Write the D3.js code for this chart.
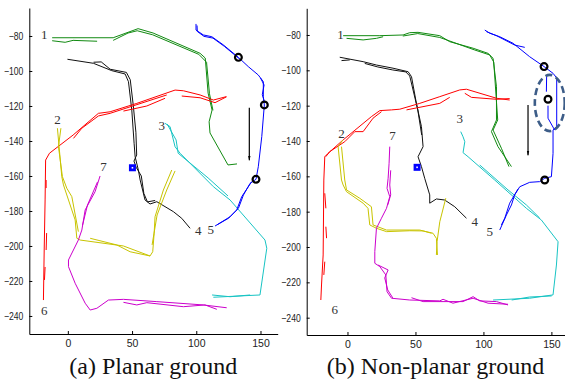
<!DOCTYPE html>
<html>
<head>
<meta charset="utf-8">
<script src="https://cdn.jsdelivr.net/npm/d3@7/dist/d3.min.js"></script>
<style>
  body { margin: 0; background: #fff; }
  svg { display: block; }
</style>
</head>
<body>
<svg id="chart" width="565" height="383"></svg>
<script>
// ---- shared ticks / labels ----
const xTicks = [0, 50, 100, 150];
const yTicks = [-80, -100, -120, -140, -160, -180, -200, -220, -240];
const trackIds = ['1', '2', '3', '4', '5', '6', '7'];
const panelTitles = ['(a) Planar ground', '(b) Non-planar ground'];

// ---- (a) planar ground: each array holds the runs of one colour, points [x, y] ----
const aGreen = [
  [[-12.2,-81],[35.3,-81],[54.7,-75.8],[66.4,-78.3],[103,-89.9],[107,-92.6],[109.2,-112.6],[112.3,-122.3],[110,-129],[110.7,-135.4],[124.7,-153.7],[131.7,-153.1]],
  [[-12.2,-82.7],[-2.1,-83.6],[4.1,-82.5],[22.8,-83]],
  [[35.3,-82.5],[46.9,-78.3],[54,-77],[66,-79.3],[102,-90.5],[108,-95],[110.3,-113],[113,-122.5]]
];
const aBlack = [
  [[-0.3,-93.3],[19.9,-95.6],[34.2,-99.8],[44.6,-101.7],[47.2,-106.1],[49.8,-122.3],[51.6,-141.3],[52.4,-149],[54.9,-156.6],[56.3,-162.3],[60.1,-173.7],[64,-176],[69.3,-174.7],[82.2,-180.4],[88.7,-184.2],[95.2,-189.9]],
  [[20,-95],[26,-94.8],[33,-99],[45.6,-100.8],[48.6,-105],[51,-120],[53,-135],[53.6,-148],[51.5,-151.5],[53.2,-155],[57.2,-160],[59.2,-170],[62,-174.8],[68,-174]]
];
const aBlue = [
  [[99.8,-73.1],[99.8,-76.6],[105.5,-79.4],[112.1,-80.4],[121.1,-85.1],[132.8,-92.2],[140.5,-97.5],[148.3,-102.3],[152.2,-106.1],[152.2,-114.7],[153,-119.4],[151,-137.5],[148.3,-154.7],[146.5,-161.9],[141.9,-164.2],[136.7,-170.9],[132.8,-178.5],[125,-184.2],[116,-188]],
  [[100.6,-74],[100.8,-77.4],[106,-80.2],[113,-81.2],[122,-86],[133.5,-93]],
  [[150,-104],[152.8,-108],[151.4,-113.5],[153.2,-118]],
  [[143.2,-163.2],[135.4,-171.8],[131.5,-179.4],[126.3,-183.3],[114.6,-188.6]]
];
const aRed = [
  [[-19,-230.9],[-18.4,-202.3],[-17.7,-173.7],[-17.3,-150.9],[-14.3,-147],[4.1,-136.6],[23.8,-124.2],[32.9,-123.3],[53.7,-118.5],[83.5,-110.9],[90,-111.3],[103,-113.7],[113.3,-116.6],[123.2,-114.7]],
  [[4.4,-138.5],[10.9,-132.7],[23.8,-125.7],[32.9,-124.2],[77,-113.7]],
  [[43.3,-122.9],[61.5,-120],[75.7,-115.6]],
  [[88.7,-114.3],[103,-115.3],[114.6,-118.1],[123.7,-114.7]],
  [[-16.9,-162.3],[-16.9,-166.9]],
  [[-16.5,-192.6],[-16.9,-202.3]],
  [[-17.7,-212],[-18.2,-219.4]]
];
const aYellow = [
  [[-8.1,-132.7],[-4.7,-160.4],[-3.4,-165.1],[5.7,-185.1],[7,-195.6],[9.6,-196.6],[43.3,-200],[64,-205.7],[66.1,-203.3],[67.2,-192.7],[67.9,-183.3],[74.4,-168],[80.9,-156.6]],
  [[-5.4,-132.7],[-7.3,-143.3],[-4.2,-160.4],[-0.8,-167],[3.1,-171.8],[8.2,-191.8]],
  [[17.4,-195.6],[38.1,-199.4],[48.5,-203.3],[64,-205.7]],
  [[65.6,-199.4],[69.5,-182.3],[77,-168],[83.5,-157.1]]
];
const aMagenta = [
  [[25.1,-160],[21.2,-169],[13.5,-179.4],[10.9,-190.9],[8.2,-196.6],[0.5,-208],[0.5,-211.8],[5.7,-221.3],[13.5,-232.7],[17.4,-236.6],[22.6,-235.6],[31.6,-230.9],[43.3,-230.5],[69.3,-231.8],[105.5,-233.7],[123.7,-235.3]],
  [[23.1,-163.4],[15.3,-176.6],[11.5,-188]],
  [[43.3,-232.2],[53.7,-233.7],[61.5,-232.4],[90,-234.7],[106.8,-233.7],[116,-236.2]]
];
const aCyan = [
  [[75.7,-129.9],[79.6,-131.8],[83.5,-143.3],[87.4,-147],[100.4,-156.6],[113.3,-166.1],[126.3,-173.7],[153.5,-196.6],[154.9,-201.3],[149.6,-228],[113.3,-229.3]],
  [[77.3,-130.3],[84.3,-139.4],[85.9,-147],[109.2,-161.1],[124.7,-171.4]],
  [[112.3,-228],[126.3,-229],[141.9,-228]]
];
const aCircles = [[132.8,-92.2],[153,-119.4],[146.5,-161.9]];
const aSquare = [50.3,-155.3];
const aArrow = [[141.3,-121],[141.3,-151]];
const aLabelPos = [[-18.4,-79.4],[-8.1,-128],[73.2,-130.9],[101.6,-190.9],[111.3,-190.5],[-18.4,-237],[27.7,-154.7]];

// ---- (b) non-planar ground ----
const bGreen = [
  [[-3.2,-80.4],[23.8,-80.4],[40.9,-80],[45.8,-78.7],[51.9,-78.5],[67.9,-80.4],[75.2,-83.8],[92.4,-87.5],[103.4,-90.4],[107.1,-93.2],[109.6,-109.3],[109.6,-128.1],[105.9,-134.7],[110.7,-143.2],[120.6,-154.5]],
  [[-0.7,-81.9],[11.5,-82.8],[21.3,-81.9],[26.2,-81]],
  [[40.7,-80.6],[51.7,-79.2],[67.9,-81.4],[93.6,-88.5],[104.6,-91.3],[107.6,-95.3],[110.5,-128.1],[107.1,-133.8],[113.2,-144.1],[118.8,-154.5]]
];
const bBlack = [
  [[-5.7,-92.6],[11.5,-95.1],[21.3,-97],[33.5,-98.8],[44.6,-100.8],[47.1,-103.6],[50.7,-118.7],[54.4,-131.9],[55.6,-143.2],[51.9,-148.9],[54.4,-154.5],[56.8,-161.1],[60.5,-170.5],[60.5,-175.2],[65.4,-172.8],[71.5,-173.4],[78.9,-177.2],[87.5,-183.7]],
  [[-4.4,-94.5],[1.7,-94.1]],
  [[12.7,-96.1],[22.3,-98.1],[33.3,-99.8],[42.9,-100.9],[45.8,-103.2],[51.7,-122.4],[54.6,-136.6]]
];
const bBlue = [
  [[101,-77.2],[104.6,-79],[112,-81],[121.8,-84.7],[134,-92.3],[144.6,-97.9],[151.2,-101.7],[153.9,-104.3],[153.9,-131.9],[151.2,-133.8],[151.2,-147],[150,-160.2],[145.1,-161.1],[141.4,-163],[134,-163.4],[126.7,-165.9],[123,-170.5],[120.6,-176.2],[116.9,-181.9],[112,-190.4]],
  [[102.2,-78.1],[109.6,-80.4],[123,-85.7],[130.4,-87]],
  [[146.5,-102.6],[146.3,-112.1]],
  [[147.5,-120],[147.5,-127.1],[152.4,-133.8]],
  [[125.4,-167.2],[119.3,-175.2],[115.7,-183.7],[113.2,-187.5]]
];
const bRed = [
  [[-19.6,-230],[-19.1,-221.5],[-17.9,-204.5],[-17.4,-162.1],[-16.7,-148.9],[-14.3,-147],[-3.2,-139.4],[17.6,-126.2],[23.8,-122.8],[32.4,-122.4],[38.5,-122],[53.2,-118.7],[67.9,-114.9],[82.6,-111.1],[87.5,-110.7],[109.6,-115.8],[119.3,-116.8]],
  [[-16,-148.9],[-13,-146],[-2,-140.4],[5.4,-134.7],[11.5,-134.7],[18.8,-127.1],[25,-123.4]],
  [[43.4,-122.4],[67.9,-118.7],[75.2,-115.3]],
  [[86.3,-113],[91.2,-115.3],[109.6,-116.4],[119.3,-116]],
  [[-16.7,-169.6],[-15.9,-178.1]],
  [[-15.9,-188.5],[-15.4,-195]],
  [[-16.7,-208.3],[-17.4,-215.8]]
];
const bYellow = [
  [[-6.9,-143.2],[-4.4,-162.1],[-3.2,-164.9],[-0.7,-168.7],[11.5,-175.2],[15.1,-178.1],[16.4,-187.5],[21.3,-189.4],[28.7,-191.3],[45.8,-190.8],[55.6,-190.9],[62.9,-192.2],[65.4,-195.1],[66.2,-204.5]],
  [[-4.4,-143.2],[-2,-162.1],[-0.7,-167.7],[9,-172.4],[17.6,-177.2],[18.8,-187.5],[28.7,-190.4],[53.2,-190.4],[61.8,-192.2]],
  [[65.4,-204.5],[65.9,-197],[67.9,-185.7],[72.3,-172.4]],
  [[-6.9,-143.2],[-3.5,-139.5]]
];
const bMagenta = [
  [[31.1,-143.2],[30.6,-152.6],[29.9,-161.1],[29.1,-166.8],[31.1,-171.5],[28.7,-178.1],[25,-183.7],[21.3,-189.4],[20.1,-202.6],[20.1,-209.2],[23.8,-211.1],[28.2,-215.8],[29.1,-225.3],[32.4,-229],[45.8,-230],[67.9,-230.5],[70.3,-229.6],[77.6,-231.8],[92.4,-229],[103.4,-231.8],[118.1,-232.4]],
  [[22.5,-210.2],[29.9,-213],[27.4,-217.5],[29.6,-224.3],[33.3,-228.8]],
  [[47.1,-228.7],[55.6,-230.9],[85,-230.9],[92.4,-228.1],[97.3,-230.5],[109.6,-230.9],[118.1,-232.8]],
  [[31.8,-156.6],[31.1,-164.9],[31.8,-170.5],[29.6,-176.2]]
];
const bCyan = [
  [[83.3,-134.7],[85,-137.6],[86.3,-140.4],[85,-146.6],[88.7,-148.9],[108.3,-162.1],[131.6,-178.1],[142.6,-184.7],[154.9,-197],[153.7,-210.2],[151.2,-227.1],[134,-229],[107.1,-230]],
  [[97.3,-153.6],[118.1,-167.7],[131.6,-176.2],[141.4,-183.6]],
  [[120.8,-230],[134,-228.3],[150.2,-227.7]]
];
const bCircles = [[144.6,-97.9],[147.5,-116.4],[145.1,-162.1]];
const bSquare = [51.2,-154.9];
const bArrow = [[132.8,-119.6],[132.8,-148]];
const bEllipse = [148.8, -118.5, 11, 15.9]; // cx, cy, rx, ry in data units
const bLabelPos = [[-5.1,-80],[-4.4,-135.6],[82.6,-127.5],[93.6,-185.7],[104.6,-191.3],[-9.3,-235.6],[33.1,-137]];

const colors = {
  green: '#118a11', black: '#111', blue: '#0000ff', red: '#ff0000',
  yellow: '#c8c400', magenta: '#cc00cc', cyan: '#18c4c4'
};

const svg = d3.select('#chart');

// arrow head marker
svg.append('defs').append('marker')
  .attr('id', 'arrowHead')
  .attr('viewBox', '0 0 10 10')
  .attr('refX', 9).attr('refY', 5)
  .attr('markerWidth', 5).attr('markerHeight', 12)
  .attr('markerUnits', 'userSpaceOnUse')
  .attr('orient', 'auto')
  .append('path')
  .attr('d', 'M0,2.5 L10,5 L0,7.5 Z')
  .attr('fill', '#000');

const panels = [
  {
    xDomain: [-30, 163.4], xRange: [29.3, 277.7],
    yDomain: [-250.3, -64], yRange: [334, 8],
    tracks: [['green', aGreen], ['black', aBlack], ['red', aRed], ['yellow', aYellow], ['magenta', aMagenta], ['cyan', aCyan], ['blue', aBlue]],
    circles: aCircles, square: aSquare, arrow: aArrow, ellipse: null,
    labels: aLabelPos, title: panelTitles[0], titleX: 153.3
  },
  {
    xDomain: [-30, 160], xRange: [306.7, 565],
    yDomain: [-249.8, -64.9], yRange: [335, 8.3],
    tracks: [['green', bGreen], ['black', bBlack], ['red', bRed], ['yellow', bYellow], ['magenta', bMagenta], ['cyan', bCyan], ['blue', bBlue]],
    circles: bCircles, square: bSquare, arrow: bArrow, ellipse: bEllipse,
    labels: bLabelPos, title: panelTitles[1], titleX: 435.5
  }
];

panels.forEach(p => {
  const x = d3.scaleLinear().domain(p.xDomain).range(p.xRange);
  const y = d3.scaleLinear().domain(p.yDomain).range(p.yRange);
  const g = svg.append('g');

  const line = d3.line().x(d => x(d[0])).y(d => y(d[1]));

  // trajectories
  p.tracks.forEach(([key, runs]) => {
    g.append('g')
      .selectAll('path')
      .data(runs)
      .join('path')
      .attr('d', line)
      .attr('fill', 'none')
      .attr('stroke', colors[key])
      .attr('stroke-width', 1)
      .attr('stroke-linejoin', 'round');
  });

  // dashed ellipse (only panel b)
  if (p.ellipse) {
    const [cx, cy, rx, ry] = p.ellipse;
    g.append('ellipse')
      .attr('cx', x(cx)).attr('cy', y(cy))
      .attr('rx', x(cx + rx) - x(cx))
      .attr('ry', y(cy - ry) - y(cy))
      .attr('fill', 'none')
      .attr('stroke', '#3d5d88')
      .attr('stroke-width', 2.6)
      .attr('stroke-dasharray', '7,4');
  }

  // loop-closure circles
  g.append('g').selectAll('circle')
    .data(p.circles)
    .join('circle')
    .attr('cx', d => x(d[0])).attr('cy', d => y(d[1]))
    .attr('r', 3.4)
    .attr('fill', 'none')
    .attr('stroke', '#000')
    .attr('stroke-width', 2.2);

  // start square
  const sq = 7;
  g.append('rect')
    .attr('x', x(p.square[0]) - sq / 2).attr('y', y(p.square[1]) - sq / 2)
    .attr('width', sq).attr('height', sq)
    .attr('fill', '#0000ff');
  g.append('rect')
    .attr('x', x(p.square[0]) - 0.8).attr('y', y(p.square[1]) - 0.8)
    .attr('width', 1.6).attr('height', 1.6)
    .attr('fill', '#fff');

  // direction arrow
  g.append('path')
    .datum(p.arrow)
    .attr('d', line)
    .attr('stroke', '#000')
    .attr('stroke-width', 1.2)
    .attr('fill', 'none')
    .attr('marker-end', 'url(#arrowHead)');

  // track numbers
  g.append('g').selectAll('text')
    .data(p.labels)
    .join('text')
    .attr('x', d => x(d[0])).attr('y', d => y(d[1]))
    .attr('text-anchor', 'middle')
    .attr('dominant-baseline', 'central')
    .attr('font-family', '"Liberation Serif", "Times New Roman", serif')
    .attr('font-size', 13)
    .attr('fill', '#333')
    .text((d, i) => trackIds[i]);

  // axes
  const yAxis = g.append('g')
    .attr('transform', `translate(${p.xRange[0]},0)`)
    .call(d3.axisLeft(y).tickValues(yTicks).tickSizeInner(-3).tickSizeOuter(0).tickPadding(6));
  const xAxis = g.append('g')
    .attr('transform', `translate(0,${p.yRange[0]})`)
    .call(d3.axisBottom(x).tickValues(xTicks).tickSizeInner(-3).tickSizeOuter(0).tickPadding(6));

  [yAxis, xAxis].forEach(ax => {
    ax.select('.domain').attr('stroke', '#000').attr('stroke-width', 1);
    ax.selectAll('line').attr('stroke', '#000');
    ax.selectAll('text')
      .attr('font-family', '"Liberation Sans", Arial, sans-serif')
      .attr('font-size', 10.5)
      .attr('fill', '#222');
  });
  // y labels appear horizontally condensed in the original
  yAxis.selectAll('text')
    .attr('x', -6 / 0.82)
    .attr('transform', 'scale(0.82,1)');

  // panel caption
  svg.append('text')
    .attr('x', p.titleX).attr('y', 374)
    .attr('text-anchor', 'middle')
    .attr('font-family', '"Liberation Serif", "Times New Roman", serif')
    .attr('font-size', 24)
    .attr('fill', '#111')
    .text(p.title);
});
</script>
</body>
</html>
